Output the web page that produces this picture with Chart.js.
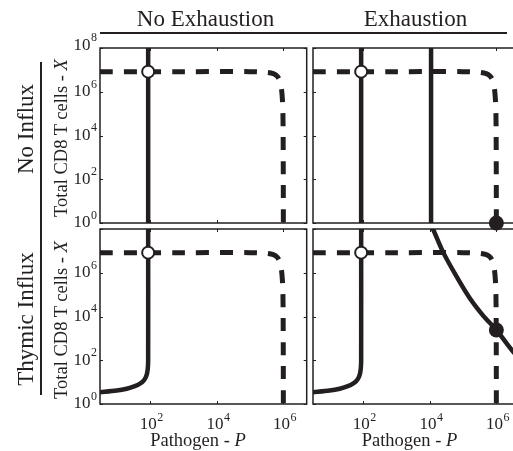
<!DOCTYPE html>
<html>
<head>
<meta charset="utf-8">
<script src="https://cdn.jsdelivr.net/npm/chart.js@4/dist/chart.umd.min.js"></script>
<style>
body { margin: 0; background: #fff; }
#wrap { position: relative; width: 513px; height: 451px; overflow: hidden; font-family: 'Liberation Serif', 'Times New Roman', serif; color: #231f20; }
#wrap canvas { position: absolute; left: 0; top: 0; }
.t { position: absolute; white-space: nowrap; line-height: 1; }
.h { transform: translateX(-50%); }
.r { transform: translate(-50%, -50%) rotate(-90deg); }
.bar { position: absolute; background: #231f20; }
</style>
</head>
<body>
<div id="wrap">
  <canvas id="c-tl" width="540" height="451"></canvas>
  <canvas id="c-tr" width="540" height="451"></canvas>
  <canvas id="c-bl" width="540" height="451"></canvas>
  <canvas id="c-br" width="540" height="451"></canvas>

  <div class="t h" style="font-size:23px; left:205.5px; top:6.7px">No Exhaustion</div>
  <div class="t h" style="font-size:23px; left:415.5px; top:6.7px">Exhaustion</div>
  <div class="bar" style="left:100px; top:31.5px; width:406.5px; height:2px"></div>

  <div class="t r" style="font-size:23px; left:25.2px; top:129px">No Influx</div>
  <div class="t r" style="font-size:23px; left:25.2px; top:319px">Thymic Influx</div>
  <div class="bar" style="left:39.5px; top:62px; width:2px; height:333px"></div>

  <div class="t r" style="font-size:18.5px; left:60.8px; top:138px">Total CD8 T cells - <i>X</i></div>
  <div class="t r" style="font-size:18.5px; left:60.8px; top:320px">Total CD8 T cells - <i>X</i></div>

  <div class="t h" style="font-size:18.5px; left:198px; top:430.5px">Pathogen - <i>P</i></div>
  <div class="t h" style="font-size:18.5px; left:409.5px; top:430.5px">Pathogen - <i>P</i></div>
</div>
<script>
const ink = '#231f20'

// axis limits (log10 of pathogen P, total cells X)
const xMin = 10 ** 0.5
const xMax = 10 ** 6.7
const yMin = 1
const yMax = 1e8
const xTickExp = [2, 4, 6]
const yTickExp = [0, 2, 4, 6, 8]

// dashed nullcline (same in all four panels)
const dashP = [3.16, 1e3, 1e5, 3e5, 5e5, 6.5e5, 7.8e5, 8.8e5, 9.4e5, 9.7e5, 9.85e5, 9.95e5, 1e6]
const dashX = [8.3e6, 8.3e6, 8.3e6, 7.8e6, 6.8e6, 5.2e6, 3.2e6, 1.3e6, 4e5, 1e5, 1e4, 1e2, 0.5]

// vertical solid nullcline
const vertP = [88, 88]
const vertX = [0.5, 2e8]

// second vertical line (exhaustion, no influx)
const vert2P = [1.1e4, 1.1e4]
const vert2X = [0.5, 2e8]

// solid curve with thymic influx
const influxP = [3.0, 10, 20, 35, 50, 65, 75, 82, 86, 88, 88]
const influxX = [3.4, 4.1, 5.0, 6.6, 8.6, 12, 17, 26, 45, 100, 2e8]

// steep curve (exhaustion + thymic influx)
const steepP = [1e4, 1.26e4, 2.5e4, 6.3e4, 1.58e5, 4e5, 1e6, 3.16e6, 7.9e6]
const steepX = [2.2e8, 1e8, 9e6, 7e5, 7e4, 1.1e4, 2.4e3, 250, 50]

// steady states
const openP = [88]
const openX = [8.3e6]
const fillTrP = [1e6]
const fillTrX = [1]
const fillBrP = [1e6]
const fillBrX = [2.4e3]

function zip(xs, ys) {
    return xs.map((v, i) => ({ x: v, y: ys[i] }))
}

function dashSet() {
    return { data: zip(dashP, dashX), borderColor: ink, borderWidth: 5, borderDash: [13, 11],
        borderCapStyle: 'butt', pointRadius: 0, tension: 0.3, clip: 0, order: 3 }
}
function solidSet(xs, ys) {
    return { data: zip(xs, ys), borderColor: ink, borderWidth: 4.5, pointRadius: 0,
        borderJoinStyle: 'round', tension: 0.3, clip: 0, order: 2 }
}
function openSet() {
    return { data: zip(openP, openX), showLine: false, pointRadius: 6, pointBorderWidth: 2,
        pointBackgroundColor: '#fff', pointBorderColor: ink, clip: false, order: 0 }
}
function fillSet(xs, ys) {
    return { data: zip(xs, ys), showLine: false, pointRadius: 7.5, pointBorderWidth: 0,
        pointBackgroundColor: ink, pointBorderColor: ink, clip: false, order: 0 }
}

function line(ctx, x1, y1, x2, y2) {
    ctx.beginPath(); ctx.moveTo(x1, y1); ctx.lineTo(x2, y2); ctx.stroke()
}

function powLabel(ctx, exp, left, base) {
    ctx.font = '17px "Liberation Serif"'
    ctx.fillText('10', left, base)
    let w = ctx.measureText('10').width
    ctx.font = '12px "Liberation Serif"'
    ctx.fillText(String(exp), left + w + 0.5, base - 8.5)
}
function powWidth(ctx, exp) {
    ctx.font = '17px "Liberation Serif"'
    let w = ctx.measureText('10').width
    ctx.font = '12px "Liberation Serif"'
    return w + 0.5 + ctx.measureText(String(exp)).width
}

const frame = {
    id: 'frame',
    beforeDatasetsDraw(chart, args, opts) {
        const { ctx, chartArea: a, scales: { x, y } } = chart
        ctx.save()
        ctx.strokeStyle = ink
        ctx.fillStyle = ink
        ctx.lineWidth = 1
        xTickExp.forEach(e => {
            let px = Math.round(x.getPixelForValue(10 ** e)) + 0.5
            line(ctx, px, a.top, px, a.top + 3)
            line(ctx, px, a.bottom, px, a.bottom - 3)
        })
        yTickExp.forEach(e => {
            let py = Math.round(y.getPixelForValue(10 ** e)) + 0.5
            line(ctx, a.left, py, a.left + 3, py)
            line(ctx, a.right, py, a.right - 3, py)
        })
        ctx.lineWidth = 1.5
        ctx.strokeRect(a.left, a.top, a.right - a.left, a.bottom - a.top)

        ctx.textAlign = 'left'
        ctx.textBaseline = 'alphabetic'
        if (opts.yLabels) {
            opts.yLabels.forEach(e => {
                let py = y.getPixelForValue(10 ** e)
                let w = powWidth(ctx, e)
                let base = e === 8 ? py + 1.5 : py + 4.3
                powLabel(ctx, e, a.left - 3 - w, base)
            })
        }
        if (opts.xLabels) {
            opts.xLabels.forEach(e => {
                let px = x.getPixelForValue(10 ** e)
                let w = powWidth(ctx, e)
                powLabel(ctx, e, px + 1.5 - w / 2, a.bottom + 25)
            })
        }
        ctx.restore()
    }
}

function makePanel(id, box, datasets, labels) {
    new Chart(document.getElementById(id), {
        type: 'line',
        data: { datasets },
        options: {
            responsive: false,
            animation: false,
            devicePixelRatio: 1,
            layout: { padding: { left: box[0], top: box[1], right: 540 - box[0] - box[2], bottom: 451 - box[1] - box[3] } },
            scales: {
                x: { type: 'logarithmic', min: xMin, max: xMax, display: false },
                y: { type: 'logarithmic', min: yMin, max: yMax, display: false }
            },
            plugins: { legend: { display: false }, tooltip: { enabled: false }, frame: labels }
        },
        plugins: [frame]
    })
}

const W = 206.7, H = 175

makePanel('c-tl', [100, 48, W, H], [
    openSet(), solidSet(vertP, vertX), dashSet()
], { yLabels: [0, 2, 4, 6, 8] })

makePanel('c-tr', [313, 48, W, H], [
    openSet(), fillSet(fillTrP, fillTrX), solidSet(vertP, vertX), solidSet(vert2P, vert2X), dashSet()
], {})

makePanel('c-bl', [100, 229, W, H], [
    openSet(), solidSet(influxP, influxX), dashSet()
], { yLabels: [0, 2, 4, 6], xLabels: [2, 4, 6] })

makePanel('c-br', [313, 229, W, H], [
    openSet(), fillSet(fillBrP, fillBrX), solidSet(influxP, influxX), solidSet(steepP, steepX), dashSet()
], { xLabels: [2, 4, 6] })
</script>
</body>
</html>
